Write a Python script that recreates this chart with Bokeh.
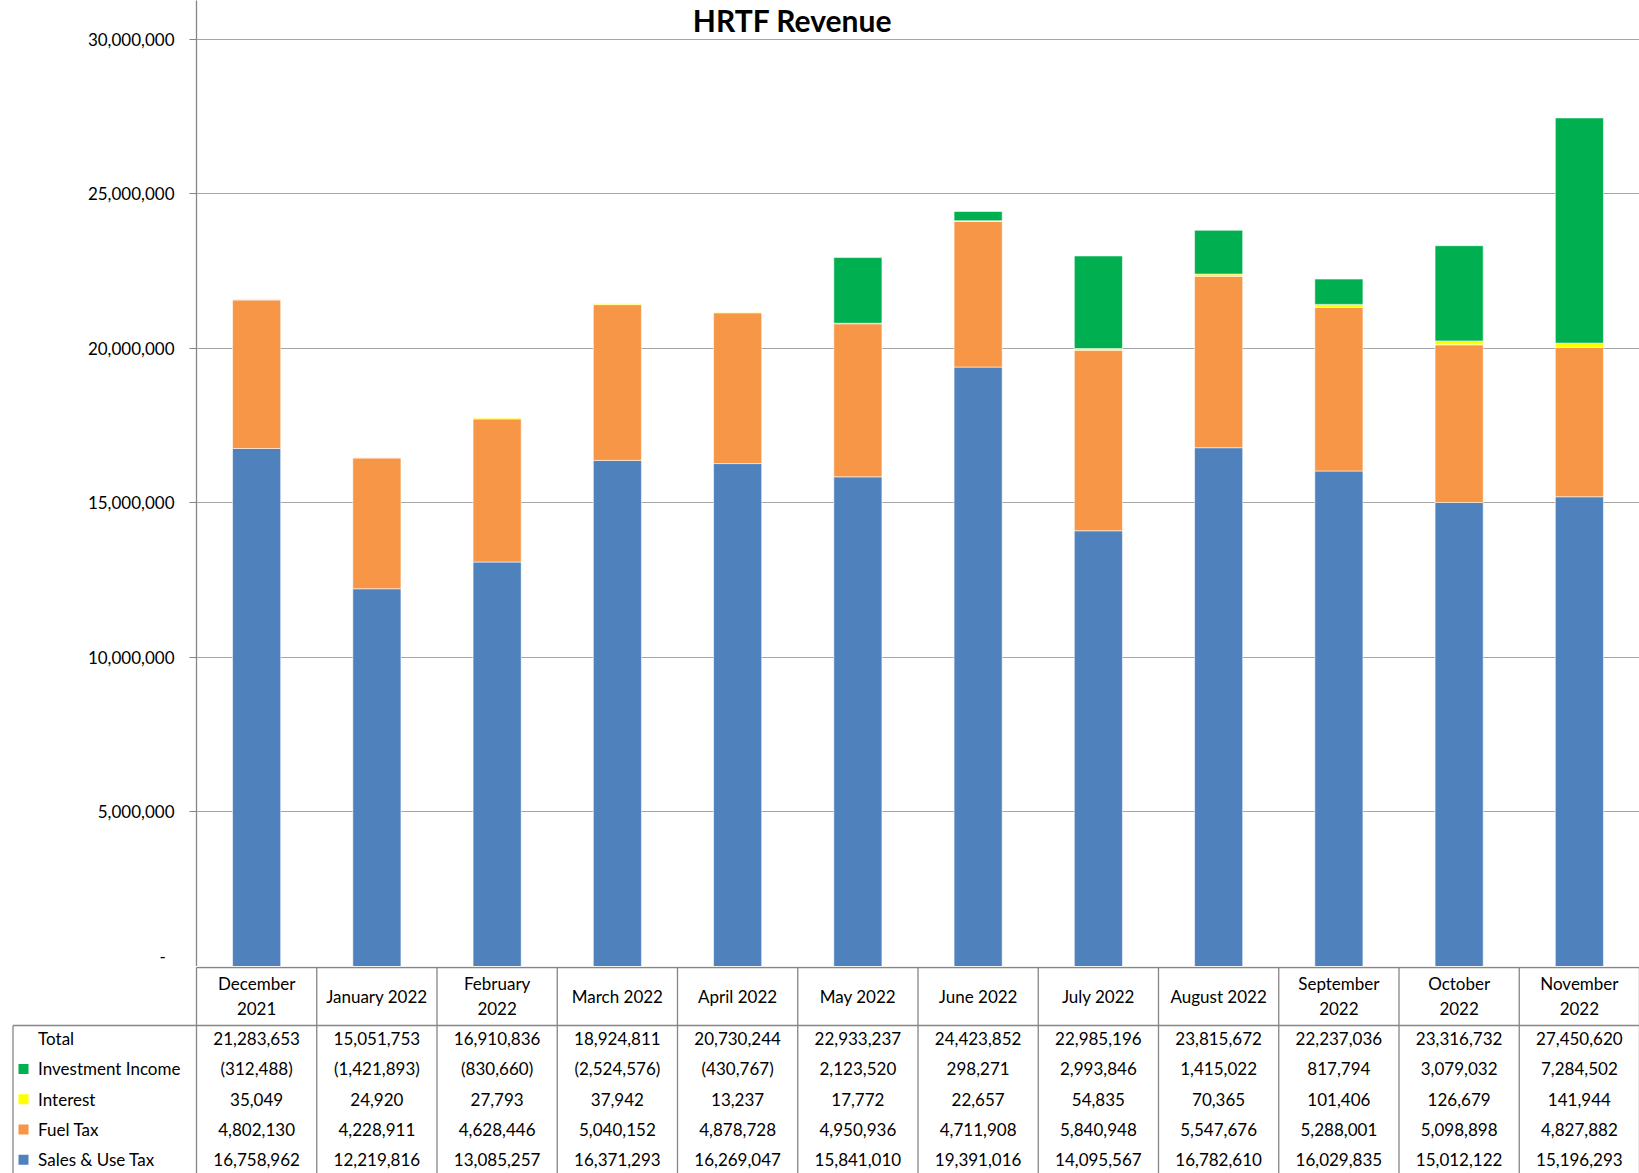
from bokeh.plotting import figure
from bokeh.models import Range1d, FactorRange, FixedTicker, NumeralTickFormatter, Label
from bokeh.core.properties import value
from bokeh.embed import file_html
from bokeh.resources import INLINE

# Monthly HRTF revenue by source
months = ["December 2021", "January 2022", "February 2022", "March 2022", "April 2022",
          "May 2022", "June 2022", "July 2022", "August 2022", "September 2022",
          "October 2022", "November 2022"]
month_labels = ["December\n2021", "January 2022", "February\n2022", "March 2022", "April 2022",
                "May 2022", "June 2022", "July 2022", "August 2022", "September\n2022",
                "October\n2022", "November\n2022"]

sales_use_tax = [16758962, 12219816, 13085257, 16371293, 16269047, 15841010,
                 19391016, 14095567, 16782610, 16029835, 15012122, 15196293]
fuel_tax = [4802130, 4228911, 4628446, 5040152, 4878728, 4950936,
            4711908, 5840948, 5547676, 5288001, 5098898, 4827882]
interest = [35049, 24920, 27793, 37942, 13237, 17772,
            22657, 54835, 70365, 101406, 126679, 141944]
investment_income = [-312488, -1421893, -830660, -2524576, -430767, 2123520,
                     298271, 2993846, 1415022, 817794, 3079032, 7284502]
total = [21283653, 15051753, 16910836, 18924811, 20730244, 22933237,
         24423852, 22985196, 23815672, 22237036, 23316732, 27450620]

y_ticks = [0, 5000000, 10000000, 15000000, 20000000, 25000000, 30000000]

BLUE, ORANGE, YELLOW, GREEN = "#4F81BD", "#F79646", "#FFFF00", "#00B050"
GRID, AXIS = "#A6A6A6", "#868686"
FONT = "Lato"
FSIZE = "17px"

WIDTH = 1639
LEFT = 196
CHART_H = 966
TABLE_H = 207
Y_END = 31250000
cat_w = (WIDTH - LEFT) / len(months)

# ---- stacked column chart ----
p = figure(width=WIDTH, height=CHART_H,
           x_range=FactorRange(factors=months, range_padding=0),
           y_range=Range1d(0, Y_END),
           output_backend="svg", toolbar_location=None,
           x_axis_location=None,
           min_border_left=LEFT, min_border_right=0,
           min_border_top=0, min_border_bottom=0,
           outline_line_color=None)

stack = [(sales_use_tax, BLUE), (fuel_tax, ORANGE), (interest, YELLOW), (investment_income, GREEN)]
pos = [0] * len(months)
neg = [0] * len(months)
for vals, color in stack:
    bottoms, tops = [], []
    for i, v in enumerate(vals):
        if v >= 0:
            b = pos[i]
            pos[i] = b + v
        else:
            b = neg[i]
            neg[i] = b + v
        bottoms.append(b)
        tops.append(b + v)
    p.vbar(x=months, bottom=bottoms, top=tops, width=0.4,
           fill_color=color, line_color="white", line_alpha=0.55, line_width=1)

p.yaxis.ticker = FixedTicker(ticks=y_ticks)
p.yaxis.formatter = NumeralTickFormatter(format="0,0")
p.yaxis.major_label_overrides = {0: "-\u00a0\u00a0"}
p.yaxis.axis_line_color = AXIS
p.yaxis.axis_line_width = 1.3
p.yaxis.major_tick_line_color = AXIS
p.yaxis.major_tick_out = 7
p.yaxis.major_tick_in = 0
p.yaxis.minor_tick_line_color = None
p.yaxis.major_label_text_font = FONT
p.yaxis.major_label_text_font_size = FSIZE
p.yaxis.major_label_text_color = "#000000"
p.yaxis.major_label_standoff = 15
p.ygrid.grid_line_color = GRID
p.ygrid.grid_line_width = 1.2
p.xgrid.grid_line_color = None

title_y = Y_END * (1 - 19 / CHART_H)
p.add_layout(Label(x=(792 - LEFT) / cat_w, y=title_y, text="HRTF Revenue",
                   text_font=FONT, text_font_style="bold", text_font_size="30px",
                   text_align="center", text_baseline="alphabetic", text_color="#000000"))

# ---- data table below the chart ----
t = figure(width=WIDTH, height=TABLE_H,
           x_range=Range1d(-LEFT / cat_w, (WIDTH - LEFT) / cat_w),
           y_range=Range1d(TABLE_H - 1, -1),
           output_backend="svg", toolbar_location=None,
           x_axis_location=None, y_axis_location=None,
           min_border=0, min_border_left=0, min_border_right=0,
           min_border_top=0, min_border_bottom=0,
           outline_line_color=None)
t.grid.visible = False

n = len(months)
header_h = 58
row_h = 30.3
table_left = (12.5 - LEFT) / cat_w

# zero line / header top
t.segment(x0=[0], y0=[0], x1=[n], y1=[0], line_color=AXIS, line_width=1.3)
# column separators
t.segment(x0=list(range(n + 1)), y0=[0] * (n + 1), x1=list(range(n + 1)),
          y1=[TABLE_H] * (n + 1), line_color=AXIS, line_width=1.3)
# data area top border and left border
t.segment(x0=[table_left, table_left], y0=[header_h, header_h], x1=[n, table_left],
          y1=[header_h, TABLE_H], line_color=AXIS, line_width=1.3)

centers = [i + 0.5 for i in range(n)]
t.text(x=centers, y=[28.5] * n, text=month_labels, text_align="center",
       text_baseline="middle", text_font=value(FONT), text_font_size=FSIZE,
       text_line_height=1.15, text_color="#000000")

row_names = ["Total", "Investment Income", "Interest", "Fuel Tax", "Sales & Use Tax"]
row_values = [total, investment_income, interest, fuel_tax, sales_use_tax]
row_colors = [None, GREEN, YELLOW, ORANGE, BLUE]


def fmt(v):
    return f"{v:,}" if v >= 0 else f"({-v:,})"


for r, (name, vals, color) in enumerate(zip(row_names, row_values, row_colors)):
    yc = header_h + row_h * (r + 0.5) - 2
    t.text(x=[(37.6 - LEFT) / cat_w], y=[yc], text=[name], text_align="left",
           text_baseline="middle", text_font=value(FONT), text_font_size=FSIZE,
           text_color="#000000")
    if color:
        t.scatter(x=[(23 - LEFT) / cat_w], y=[yc], marker="square", size=10,
                  fill_color=color, line_color=None)
    t.text(x=centers, y=[yc] * n, text=[fmt(v) for v in vals], text_align="center",
           text_baseline="middle", text_font=value(FONT), text_font_size=FSIZE,
           text_color="#000000")

# two independent roots stacked on the page, chart above its data table
open("out.html", "w").write(file_html([p, t], INLINE))
